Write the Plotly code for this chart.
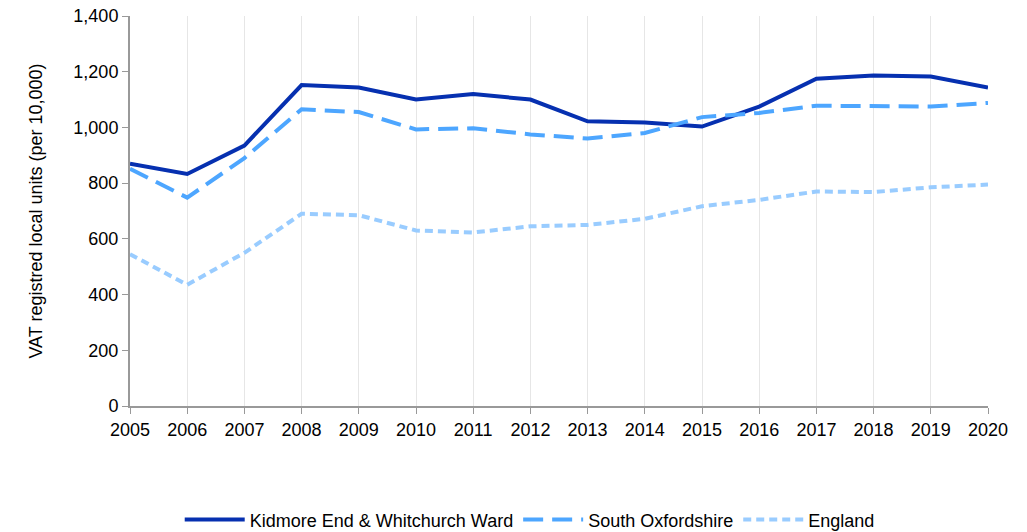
import plotly.graph_objects as go

years = list(range(2005, 2021))
kidmore = [870, 833, 935, 1152, 1143, 1100, 1120, 1100, 1022, 1018, 1003, 1075, 1175, 1186, 1183, 1143]
south_oxon = [852, 748, 890, 1065, 1055, 993, 997, 975, 960, 980, 1037, 1052, 1078, 1078, 1075, 1088]
england = [545, 435, 550, 690, 685, 630, 623, 645, 650, 672, 717, 740, 770, 768, 785, 795]

series_names = ["Kidmore End & Whitchurch Ward", "South Oxfordshire", "England"]

fig = go.Figure()
fig.add_trace(go.Scatter(x=years, y=kidmore, mode="lines", name=series_names[0],
                         line=dict(color="#0630b0", width=4)))
fig.add_trace(go.Scatter(x=years, y=south_oxon, mode="lines", name=series_names[1],
                         line=dict(color="#4da6ff", width=4, dash="20px,9px")))
fig.add_trace(go.Scatter(x=years, y=england, mode="lines", name=series_names[2],
                         line=dict(color="#99ccff", width=4, dash="8px,5px")))

# the page body adds an 8px offset, margins are shifted to make up for it
fig.update_layout(
    width=1027, height=532,
    margin=dict(l=122, r=47, t=8, b=134),
    paper_bgcolor="white", plot_bgcolor="white",
    font=dict(family="Liberation Sans, Arial, sans-serif", size=18, color="black"),
    showlegend=True,
    legend=dict(orientation="h", xref="container", yref="container",
                x=0.508, xanchor="center", y=0.038, yanchor="middle",
                font=dict(size=18), itemwidth=60, tracegroupgap=0),
)
fig.update_xaxes(
    range=[2005, 2020], tickmode="array", tickvals=years, ticktext=[str(y) for y in years],
    showgrid=True, gridcolor="#e6e6e6", gridwidth=1,
    showline=True, linecolor="#999999", linewidth=2,
    ticks="outside", ticklen=6, tickcolor="#999999", zeroline=False,
    ticklabeloverflow="allow", automargin=False,
)
fig.update_yaxes(
    range=[0, 1400], dtick=200, tickformat=",",
    showgrid=False, showline=True, linecolor="#999999", linewidth=2,
    ticks="outside", ticklen=6, tickcolor="#999999", zeroline=False,
    ticklabeloverflow="allow", automargin=False,
    title=dict(text="VAT registred local units (per 10,000)", font=dict(size=18), standoff=26),
)

fig.write_html("out.html")
